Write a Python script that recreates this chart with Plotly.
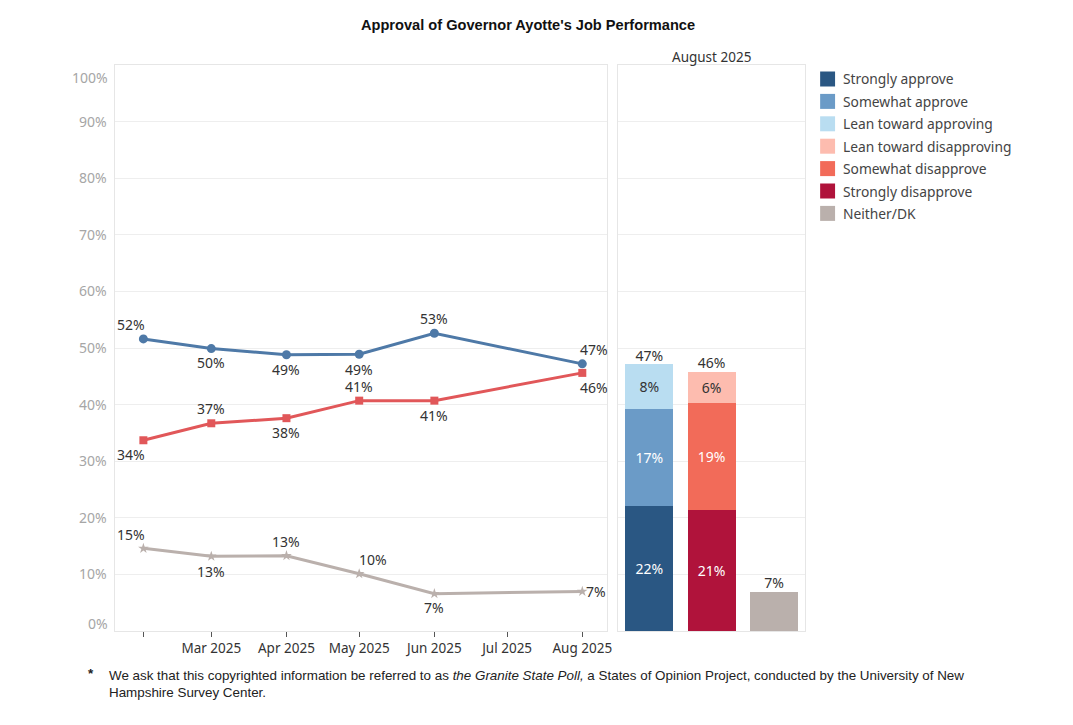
import plotly.graph_objects as go

# ---------------- data ----------------
months = ["2025-02-01", "2025-03-01", "2025-04-01", "2025-05-01", "2025-06-01", "2025-08-01"]
approve = [51.6, 49.9, 48.8, 48.9, 52.6, 47.2]
disapprove = [33.7, 36.7, 37.6, 40.7, 40.7, 45.6]
neither = [14.6, 13.2, 13.3, 10.1, 6.6, 7.0]

tick_dates = ["2025-02-01", "2025-03-01", "2025-04-01", "2025-05-01", "2025-06-01", "2025-07-01", "2025-08-01"]
tick_text = ["", "Mar 2025", "Apr 2025", "May 2025", "Jun 2025", "Jul 2025", "Aug 2025"]
y_ticks = [0, 10, 20, 30, 40, 50, 60, 70, 80, 90, 100]

bar_cats = ["Approve", "Disapprove", "Neither"]
seg_names = ["Strongly approve", "Somewhat approve", "Lean toward approving",
             "Strongly disapprove", "Somewhat disapprove", "Lean toward disapproving",
             "Neither/DK"]
seg_cat = ["Approve", "Approve", "Approve", "Disapprove", "Disapprove", "Disapprove", "Neither"]
seg_vals = [22.0, 17.3, 7.8, 21.3, 18.9, 5.6, 6.9]
legend_order = ["Strongly approve", "Somewhat approve", "Lean toward approving",
                "Lean toward disapproving", "Somewhat disapprove", "Strongly disapprove", "Neither/DK"]

# ---------------- styles ----------------
OFF = 8  # page body margin added by the browser (both sides)
W, H = 1073 - 2 * OFF, 725 - 2 * OFF
FONT = "Noto Sans"

# label offsets (pixels, dx right, dy down) for the line-chart data labels
approve_off = [(-12, -14), (0, 14), (0, 15), (0, 15), (0, -15), (12, -14)]
disapprove_off = [(-12, 14), (0, -15), (0, 14), (0, -14), (0, 15), (12, 15)]
neither_off = [(-12, -14), (0, 15), (0, -14), (14, -14), (0, 14), (14, 0)]

seg_colors = {
    "Strongly approve": "#2a5783",
    "Somewhat approve": "#6b9bc7",
    "Lean toward approving": "#b9ddf1",
    "Lean toward disapproving": "#fdbcaf",
    "Somewhat disapprove": "#f26b59",
    "Strongly disapprove": "#b0133b",
    "Neither/DK": "#bab0ac",
}
seg_text_color = {
    "Strongly approve": "white", "Somewhat approve": "white", "Lean toward approving": "#333333",
    "Lean toward disapproving": "#333333", "Somewhat disapprove": "white",
    "Strongly disapprove": "white", "Neither/DK": "#333333",
}

def fx(px):
    return (px - OFF) / W

def fy(py):
    return 1 - (py - OFF) / H

fig = go.Figure()

label_font = dict(family=FONT, size=14, color="#333333")

def pct(vals):
    return [f"{v:.0f}%" for v in vals]

line_series = [
    (approve, "#4e79a7", "circle", 9, approve_off),
    (disapprove, "#e15759", "square", 8, disapprove_off),
    (neither, "#bab0ac", "star", 8, neither_off),
]

annotations = []
for vals, color, sym, size, offs in line_series:
    fig.add_trace(go.Scatter(
        x=months, y=vals, mode="lines+markers",
        line=dict(color=color, width=3), marker=dict(symbol=sym, size=size, color=color),
        showlegend=False, cliponaxis=False, xaxis="x", yaxis="y"))
    for xv, yv, t, (dx, dy) in zip(months, vals, pct(vals), offs):
        annotations.append(dict(x=xv, y=yv, xref="x", yref="y", text=t, showarrow=False,
                                xanchor="center", yanchor="middle", xshift=dx, yshift=-dy,
                                font=label_font))

# stacked bars
for name, cat, val in zip(seg_names, seg_cat, seg_vals):
    fig.add_trace(go.Bar(
        x=[cat], y=[val], name=name, marker=dict(color=seg_colors[name], line=dict(width=0)),
        text=[f"{val:.0f}%"] if cat != "Neither" else [""], textposition="inside",
        insidetextanchor="middle", textangle=0,
        textfont=dict(family=FONT, size=14, color=seg_text_color[name]),
        showlegend=False, xaxis="x2", yaxis="y2"))

totals = []
for c in bar_cats:
    totals.append(sum(v for v, k in zip(seg_vals, seg_cat) if k == c))
fig.add_trace(go.Scatter(
    x=bar_cats, y=totals, mode="text", text=pct(totals), textposition="top center",
    textfont=label_font, showlegend=False, cliponaxis=False, xaxis="x2", yaxis="y2"))

grid_c = "#eeeeee"
y_dom = [fy(631), fy(65)]

fig.update_layout(
    width=W, height=H, margin=dict(l=0, r=0, t=0, b=0),
    paper_bgcolor="white", plot_bgcolor="white",
    font=dict(family=FONT, size=13, color="#333333"),
    barmode="stack", bargap=0.235,
    xaxis=dict(domain=[fx(116), fx(610)], type="date",
               range=["2025-01-20 12:00", "2025-08-11 06:00"],
               tickvals=tick_dates, ticktext=tick_text, ticks="outside", ticklen=5,
               tickcolor="#555555", tickfont=dict(size=13.5, color="#333333"),
               showgrid=False, showline=True, linecolor="#e6e6e6", mirror=True, zeroline=False),
    yaxis=dict(domain=y_dom, range=[0, 100], tickvals=y_ticks[1:-1],
               ticktext=[f"{t}%" for t in y_ticks[1:-1]],
               tickfont=dict(size=14, color="#a6a6a6"), ticks="", ticklabelstandoff=5,
               showgrid=True, gridcolor=grid_c, showline=True, linecolor="#e6e6e6",
               mirror=True, zeroline=False),
    xaxis2=dict(domain=[fx(621), fx(809)], type="category", categoryorder="array",
                categoryarray=bar_cats, showticklabels=False, ticks="",
                showgrid=False, showline=True, linecolor="#e6e6e6", mirror=True, zeroline=False),
    yaxis2=dict(domain=y_dom, range=[0, 100], anchor="x2", tickvals=y_ticks,
                showticklabels=False, ticks="", showgrid=True, gridcolor=grid_c,
                showline=True, linecolor="#e6e6e6", mirror=True, zeroline=False),
)

# end y tick labels (0% and 100%), nudged inside the pane as in the reference
annotations.append(dict(x=fx(110), y=fy(623), xref="paper", yref="paper", text=f"{y_ticks[0]}%",
                        showarrow=False, xanchor="right", yanchor="middle",
                        font=dict(size=14, color="#a6a6a6")))
annotations.append(dict(x=fx(110), y=fy(78), xref="paper", yref="paper", text=f"{y_ticks[-1]}%",
                        showarrow=False, xanchor="right", yanchor="middle",
                        font=dict(size=14, color="#a6a6a6")))
# title
annotations.append(dict(x=fx(530), y=fy(25), xref="paper", yref="paper",
                        text="<b>Approval of Governor Ayotte's Job Performance</b>",
                        showarrow=False, xanchor="center", yanchor="middle",
                        font=dict(family="Liberation Sans", size=14.6, color="#111111")))
annotations.append(dict(x=fx(715), y=fy(57), xref="paper", yref="paper", text="August 2025",
                        showarrow=False, xanchor="center", yanchor="middle",
                        font=dict(size=13.5, color="#333333")))
# legend
shapes = []
for i, name in enumerate(legend_order):
    cy = 79 + 22.4 * i
    shapes.append(dict(type="rect", xref="paper", yref="paper", x0=fx(824), x1=fx(839),
                       y0=fy(cy + 7.5), y1=fy(cy - 7.5), fillcolor=seg_colors[name], line=dict(width=0)))
    annotations.append(dict(x=fx(845), y=fy(cy), xref="paper", yref="paper", text=name,
                            showarrow=False, xanchor="left", yanchor="middle",
                            font=dict(size=13.8, color="#444444")))
# footnote
foot_font = dict(family="Liberation Sans", size=13.4, color="#222222")
annotations.append(dict(x=fx(91), y=fy(673), xref="paper", yref="paper", text="<b>*</b>",
                        showarrow=False, xanchor="center", yanchor="middle", font=foot_font))
annotations.append(dict(x=fx(107), y=fy(684), xref="paper", yref="paper",
                        text="We ask that this copyrighted information be referred to as <i>the Granite State Poll,</i> "
                             "a States of Opinion Project, conducted by the University of New<br>Hampshire Survey Center.",
                        showarrow=False, xanchor="left", yanchor="middle", align="left", font=foot_font))

fig.update_layout(annotations=annotations, shapes=shapes)
fig.write_html("out.html")
